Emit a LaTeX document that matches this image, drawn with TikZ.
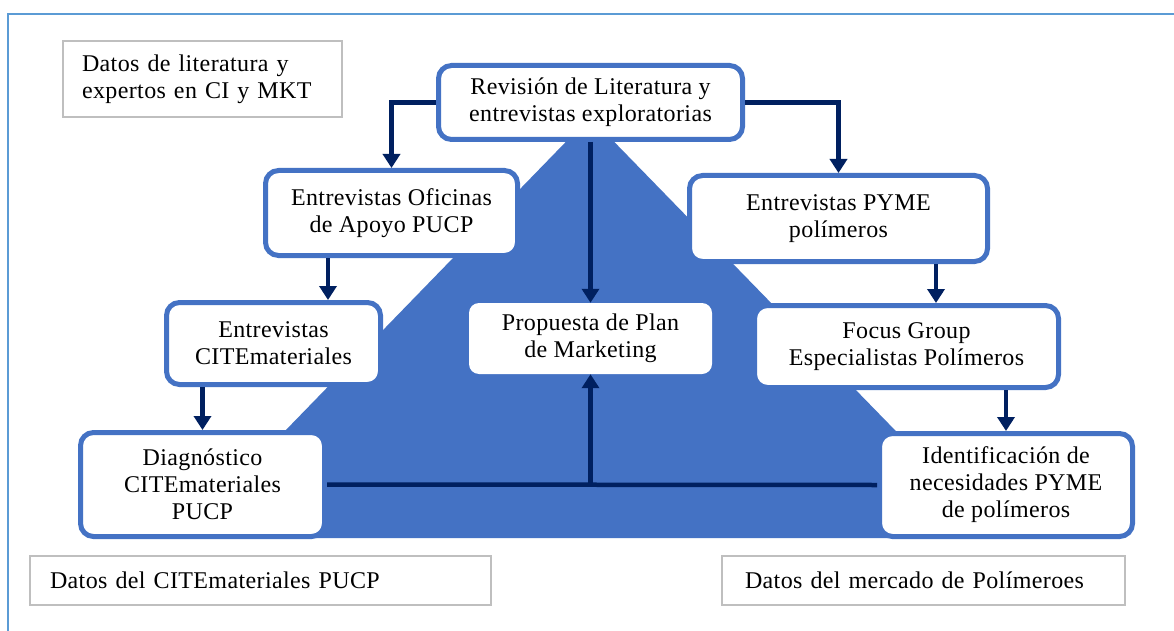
\documentclass[tikz,border=0pt]{standalone}
\usepackage{fontspec}
\setmainfont[LetterSpace=1.6]{Liberation Serif}
\usetikzlibrary{arrows.meta,calc}
\definecolor{boxblue}{HTML}{4472C4}
\definecolor{navy}{HTML}{002060}
\definecolor{frameblue}{HTML}{5B9BD5}
\definecolor{graybd}{HTML}{BFBFBF}
\begin{document}
\begin{tikzpicture}[x=1pt,y=-1pt,
  txt/.style={font=\fontsize{24}{27}\selectfont},
  bbox/.style={txt, draw=boxblue, line width=5pt, rounded corners=13pt, fill=white, align=center, inner sep=0pt},
  wbox/.style={txt, fill=white, rounded corners=10pt, align=center, inner sep=0pt},
  gbox/.style={txt, draw=graybd, line width=1.8pt, fill=white, align=left, inner ysep=0pt},
  arr/.style={draw=navy, line width=4.5pt, -{Triangle[length=14pt,width=17pt]}},
  conn/.style={draw=navy, line width=4.5pt}]
\useasboundingbox (0,0) rectangle (1174,631);
\fill[white] (0,0) rectangle (1174,631);
% frame
\draw[frameblue, line width=1.5pt] (8,640) -- (8,14) -- (1180,14);
% triangle
\fill[boxblue] (590,117) -- (181,538) -- (1000,538) -- cycle;
% gray data boxes
\node[gbox, inner xsep=19pt, text width=241pt, minimum height=76pt] (lit) at (202.5,79) {Datos de literatura y\\expertos en CI y MKT};
\node[gbox, inner xsep=20pt, text width=421pt, minimum height=49pt] (dcite) at (260.5,580.5) {Datos del CITEmateriales PUCP};
\node[gbox, inner xsep=23pt, text width=357pt, minimum height=49pt] (dmerc) at (923.5,580.5) {Datos del mercado de Polímeroes};
% process boxes
\node[bbox, minimum width=304pt, minimum height=74pt] (top) at (590.5,102.5) {Revisión de Literatura y\\entrevistas exploratorias};
\node[bbox, minimum width=252pt, minimum height=85pt] (ofi) at (391.5,213) {Entrevistas Oficinas\\de Apoyo PUCP};
\node[bbox, minimum width=298pt, minimum height=86pt] (pyme) at (838.5,218.5) {Entrevistas PYME\\polímeros};
\node[bbox, minimum width=214pt, minimum height=82pt] (cite) at (273.5,343.5) {Entrevistas\\CITEmateriales};
\node[wbox, minimum width=243pt, minimum height=71pt] (prop) at (590.5,338.5) {Propuesta de Plan\\de Marketing};
\node[bbox, minimum width=304pt, minimum height=82pt] (focus) at (906.5,346.5) {Focus Group\\Especialistas Polímeros};
\node[bbox, minimum width=244pt, minimum height=104pt] (diag) at (202.5,484.5) {Diagnóstico\\CITEmateriales\\PUCP};
\node[bbox, minimum width=253pt, minimum height=103pt] (ident) at (1006,485) {Identificación de\\necesidades PYME\\de polímeros};
% connectors
\draw[arr] (top.west) -| (ofi.north);
\draw[arr] (top.east) -| (pyme.north);
\draw[arr] (top.south) -- (prop.north);
\draw[arr] ([xshift=-63.5pt]ofi.south) -- ([xshift=-63.5pt]ofi.south |- cite.north);
\draw[arr] (diag.north |- cite.south) -- (diag.north);
\draw[arr] ([xshift=97.5pt]pyme.south) -- ([xshift=97.5pt]pyme.south |- focus.north);
\draw[arr] (ident.north |- focus.south) -- (ident.north);
\draw[conn] (diag.east) -- (ident.west);
\draw[arr] (prop.south |- diag.east) -- (prop.south);
\end{tikzpicture}
\end{document}
